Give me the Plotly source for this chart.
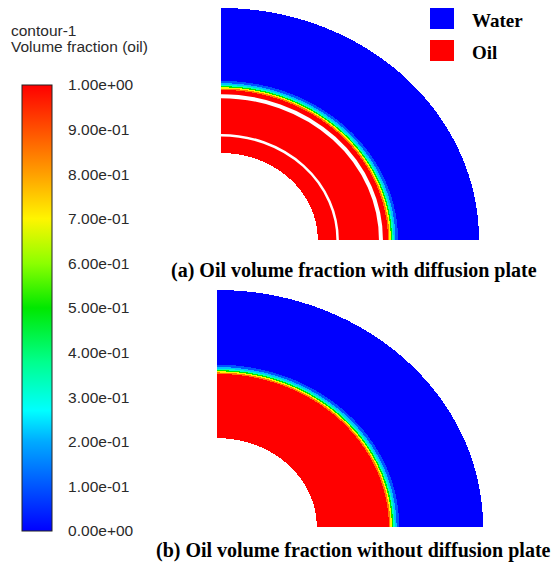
import numpy as np
import plotly.graph_objects as go

W, H = 554, 567

# ---- data: radial oil volume fraction profile (r normalised to outer radius) ----
# (a) with diffusion plate
r_edges_a = [0.375, 0.647, 0.653, 0.658, 0.663, 0.669, 0.676, 0.686, 1.0]
vf_a = [1.0, 0.85, 0.7, 0.5, 0.33, 0.22, 0.1, 0.0]
plate_r_a = [0.452, 0.62]
plate_w_a = [2.5, 4]
# (b) without diffusion plate
r_edges_b = [0.375, 0.646, 0.652, 0.657, 0.662, 0.668, 0.675, 0.685, 1.0]
vf_b = [1.0, 0.85, 0.7, 0.5, 0.33, 0.22, 0.1, 0.0]

tick_vals = [0.0, 0.1, 0.2, 0.3, 0.4, 0.5, 0.6, 0.7, 0.8, 0.9, 1.0]
tick_text = ["0.00e+00", "1.00e-01", "2.00e-01", "3.00e-01", "4.00e-01", "5.00e-01",
             "6.00e-01", "7.00e-01", "8.00e-01", "9.00e-01", "1.00e+00"]

captions = ["(a) Oil volume fraction with diffusion plate",
            "(b) Oil volume fraction without diffusion plate"]
legend_names = ["Water", "Oil"]
legend_colors = ["#0000ff", "#ff0000"]

colorscale = [
    [0.0, "rgb(0,0,255)"], [0.1, "rgb(0,85,255)"], [0.2, "rgb(0,170,255)"],
    [0.27, "rgb(0,255,255)"], [0.38, "rgb(0,255,140)"], [0.5, "rgb(0,232,0)"],
    [0.6, "rgb(140,255,0)"], [0.7, "rgb(255,245,0)"], [0.8, "rgb(255,160,0)"],
    [0.9, "rgb(255,80,0)"], [1.0, "rgb(255,0,0)"],
]


def field(edges, vals, nx, ny):
    xs = (np.arange(nx) + 0.5) / nx
    ys = (np.arange(ny) + 0.5) / ny
    X, Y = np.meshgrid(xs, ys)
    R = np.sqrt(X ** 2 + Y ** 2)
    idx = np.searchsorted(np.array(edges), R, side="right") - 1
    v = np.array(vals + [np.nan])
    idx = np.where((idx < 0) | (idx >= len(vals)), len(vals), idx)
    return xs, ys, v[idx]


# subplot boxes in pixels: left, right, top, bottom
box_a = (221, 479, 8, 240)
box_b = (217, 483, 290, 527)

fig = go.Figure()

for k, (box, edges, vals) in enumerate([(box_a, r_edges_a, vf_a), (box_b, r_edges_b, vf_b)]):
    l, r, t, b = box
    nx, ny = int(r - l), int(b - t)
    xs, ys, z = field(edges, vals, nx, ny)
    sfx = "" if k == 0 else "2"
    fig.add_trace(go.Heatmap(
        x=xs, y=ys, z=z, zmin=0, zmax=1, colorscale=colorscale, zsmooth=False,
        showscale=(k == 0), hoverinfo="skip",
        xaxis="x" + sfx, yaxis="y" + sfx,
        colorbar=dict(
            x=22 / W, xanchor="left", y=1 - 85 / H, yanchor="top",
            len=446, lenmode="pixels", thickness=30, thicknessmode="pixels",
            xpad=0, ypad=0, outlinewidth=1, outlinecolor="#222",
            tickvals=tick_vals, ticktext=tick_text, ticks="outside", ticklen=13,
            tickcolor="rgba(0,0,0,0)",
            tickfont=dict(family="Liberation Sans, Arial, sans-serif", size=15.5, color="#2a2a2a"),
        ),
    ))
    fig.update_layout(**{
        "xaxis" + sfx: dict(domain=[l / W, r / W], range=[0, 1], visible=False, fixedrange=True),
        "yaxis" + sfx: dict(domain=[1 - b / H, 1 - t / H], range=[0, 1], visible=False, fixedrange=True),
    })

shapes = []
for rr, ww in zip(plate_r_a, plate_w_a):
    shapes.append(dict(type="circle", xref="x", yref="y", x0=-rr, x1=rr, y0=-rr, y1=rr,
                       line=dict(color="white", width=ww), layer="above"))

annotations = []
# legend
for i, (name, col) in enumerate(zip(legend_names, legend_colors)):
    y0 = 8 + i * 32
    shapes.append(dict(type="rect", xref="paper", yref="paper", x0=430 / W, x1=454 / W,
                       y0=1 - (y0 + 21) / H, y1=1 - y0 / H, fillcolor=col, line=dict(width=0)))
    annotations.append(dict(text="<b>%s</b>" % name, x=470 / W, y=1 - (y0 + 12) / H,
                            xref="paper", yref="paper", xanchor="left", yanchor="middle",
                            showarrow=False,
                            font=dict(family="Liberation Serif, Times New Roman, serif", size=19, color="black")))

# colorbar title
annotations.append(dict(text="contour-1", x=9 / W, y=1 - 30 / H, xref="paper", yref="paper",
                        xanchor="left", yanchor="middle", showarrow=False,
                        font=dict(family="Liberation Sans, Arial, sans-serif", size=15.5, color="#2a2a2a")))
annotations.append(dict(text="Volume fraction (oil)", x=9 / W, y=1 - 46 / H, xref="paper", yref="paper",
                        xanchor="left", yanchor="middle", showarrow=False,
                        font=dict(family="Liberation Sans, Arial, sans-serif", size=15.5, color="#2a2a2a")))

# captions
for cap, yc, xc in zip(captions, [270, 550], [354, 353]):
    annotations.append(dict(text="<b>%s</b>" % cap, x=xc / W, y=1 - yc / H, xref="paper", yref="paper",
                            xanchor="center", yanchor="middle", showarrow=False,
                            font=dict(family="Liberation Serif, Times New Roman, serif", size=20, color="black")))

fig.update_layout(
    width=W, height=H, margin=dict(l=0, r=0, t=0, b=0, autoexpand=False),
    paper_bgcolor="white", plot_bgcolor="white",
    shapes=shapes, annotations=annotations, showlegend=False,
)

fig.write_html("out.html", config={"displayModeBar": False},
               post_script="document.body.style.margin='0px';document.body.style.overflow='hidden';")
